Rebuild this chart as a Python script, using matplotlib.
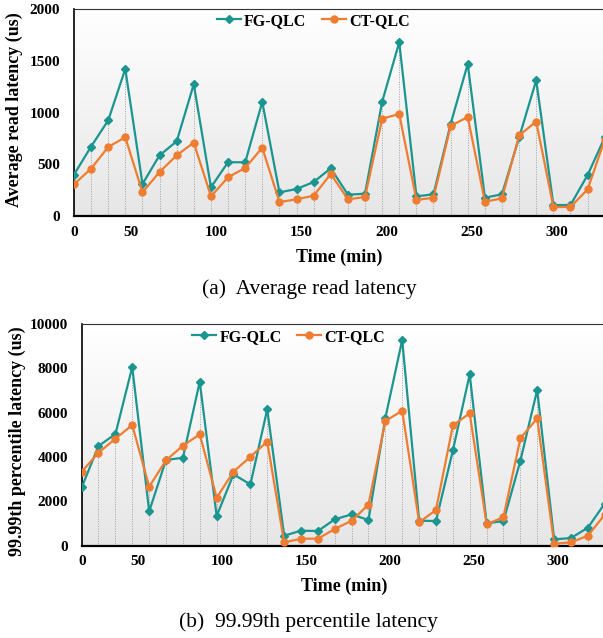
import numpy as np
import matplotlib
matplotlib.use("Agg")
import matplotlib.pyplot as plt
from matplotlib.colors import LinearSegmentedColormap

plt.rcParams['font.family'] = ['Liberation Serif', 'DejaVu Serif']

# sample times (min) (about one point every 10 min)
times = [16.5, 26.5, 36.6, 46.6, 56.7, 66.7, 76.8, 86.8, 96.9, 106.9, 117.0, 127.0,
         137.1, 147.1, 157.2, 167.2, 177.3, 187.3, 197.4, 207.4, 217.5, 227.5, 237.6, 247.6,
         257.7, 267.7, 277.8, 287.8, 297.9, 307.9, 318.0, 328.0]

# (a) average read latency (us)
fg_avg = [400, 671, 926, 1423, 310, 587, 723, 1275, 278, 520, 520, 1104, 229, 261, 329, 462,
          206, 216, 1107, 1681, 190, 210, 893, 1471, 177, 210, 762, 1313, 106, 106, 397, 760]
ct_avg = [307, 458, 668, 762, 229, 426, 587, 710, 190, 375, 465, 661, 135, 161, 197, 407,
          161, 184, 942, 987, 155, 177, 871, 958, 138, 171, 781, 913, 87, 87, 258, 740]

# (b) 99.99th percentile latency (us)
fg_tail = [2630, 4496, 5038, 8060, 1549, 3865, 3970, 7398, 1338, 3218, 2767, 6150, 451, 677, 662, 1188,
           1414, 1158, 5774, 9278, 1128, 1113, 4301, 7729, 1008, 1113, 3835, 7023, 286, 346, 812, 1900]
ct_tail = [3338, 4195, 4827, 5444, 2662, 3850, 4511, 5023, 2165, 3338, 4015, 4692, 150, 316, 316, 752,
           1128, 1850, 5624, 6090, 1053, 1609, 5429, 5970, 962, 1293, 4842, 5744, 90, 150, 451, 1400]

XMIN, XMAX = 16.5, 327
xtick_pos = [XMIN, 50, 100, 150, 200, 250, 300]
xtick_lab = ['0', '50', '100', '150', '200', '250', '300']

TEAL = '#1B9590'
ORANGE = '#EE7D31'

W, H = 603, 638
fig = plt.figure(figsize=(W / 100, H / 100), dpi=100)

bg = LinearSegmentedColormap.from_list('bg', ['#e6e6e6', '#ffffff'])


def px(x0, y0, x1, y1):
    # pixel box (left, top, right, bottom) -> figure fraction rect
    return [x0 / W, 1 - y1 / H, (x1 - x0) / W, (y1 - y0) / H]


def panel(rect, fg, ct, ymax, ystep, leg_xy):
    ax = fig.add_axes(rect)
    ax.imshow(np.linspace(0, 1, 256).reshape(-1, 1), cmap=bg, origin='lower', aspect='auto',
              extent=[0, 1, 0, 1], transform=ax.transAxes, zorder=0)
    top = np.maximum(fg, ct)
    ax.vlines(times, 0, top, colors='#a0a0a0', linestyles=(0, (1, 1.5)), linewidth=0.7, zorder=1)
    ax.plot(times, fg, color=TEAL, lw=1.6, marker='D', ms=4.2, label='FG-QLC', zorder=3)
    ax.plot(times, ct, color=ORANGE, lw=1.6, marker='o', ms=5, label='CT-QLC', zorder=4)
    ax.set_xlim(XMIN, XMAX)
    ax.set_ylim(0, ymax)
    ax.set_yticks(np.arange(0, ymax + 1, ystep))
    ax.set_xticks(xtick_pos)
    ax.set_xticklabels(xtick_lab)
    ax.tick_params(length=0, labelsize=11)
    ax.tick_params(axis='y', pad=10)
    ax.tick_params(axis='x', pad=7)
    for t in ax.get_xticklabels() + ax.get_yticklabels():
        t.set_fontweight('bold')
    ax.spines['right'].set_visible(False)
    ax.spines['bottom'].set_linewidth(1.6)
    ax.spines['left'].set_linewidth(1.2)
    ax.spines['top'].set_linewidth(0.8)
    ax.spines['top'].set_color('#333333')
    ax.legend(loc='center', bbox_to_anchor=leg_xy, ncol=2, frameon=False,
              prop={'weight': 'bold', 'size': 11.5}, handlelength=1.5,
              handletextpad=0.2, columnspacing=1.0)
    return ax


ax1 = panel(px(74, 9.3, 603, 216), fg_avg, ct_avg, 2000, 500, (0.453, 0.943))
ax2 = panel(px(81.7, 324, 603, 545.7), fg_tail, ct_tail, 10000, 2000, (0.397, 0.941))

fig.text(14 / W, 1 - 109.5 / H, 'Average read latency (us)', rotation=90, ha='center', va='center',
         fontsize=13, fontweight='bold')
fig.text(17 / W, 1 - 441 / H, '99.99th percentile latency (us)', rotation=90, ha='center', va='center',
         fontsize=13, fontweight='bold')
fig.text(339 / W, 1 - 257 / H, 'Time (min)', ha='center', va='center', fontsize=13, fontweight='bold')
fig.text(344 / W, 1 - 586 / H, 'Time (min)', ha='center', va='center', fontsize=13, fontweight='bold')
fig.text(309 / W, 1 - 289 / H, '(a)  Average read latency', ha='center', va='center', fontsize=15.5)
fig.text(308 / W, 1 - 622 / H, '(b)  99.99th percentile latency', ha='center', va='center', fontsize=15.5)

fig.savefig('out.png', dpi=100)
